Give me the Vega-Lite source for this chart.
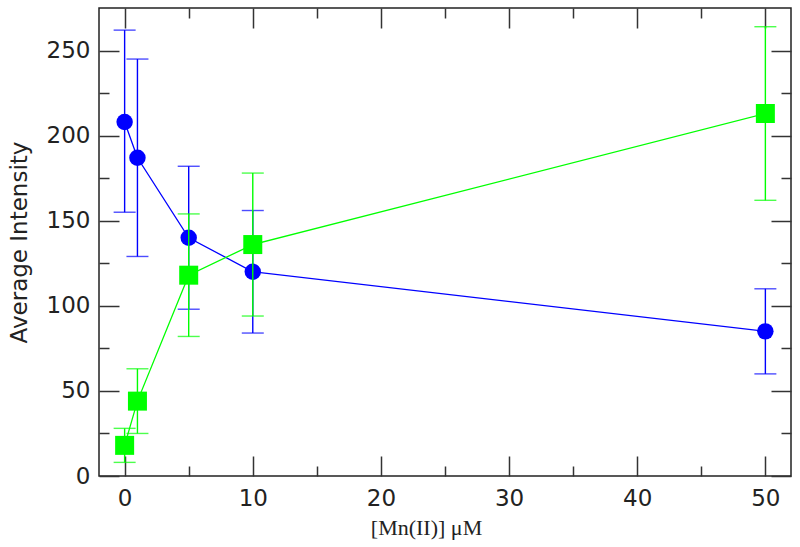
{
  "$schema": "https://vega.github.io/schema/vega-lite/v6.json",
  "width": 692,
  "height": 468,
  "autosize": "none",
  "padding": {"left": 99, "top": 8, "right": 9, "bottom": 71},
  "background": "white",
  "config": {
    "view": {"stroke": "#222222", "strokeWidth": 1.5},
    "axis": {
      "domain": false,
      "grid": false,
      "ticks": true,
      "tickColor": "#333333",
      "tickWidth": 1.5,
      "labelFont": "DejaVu Sans",
      "labelFontSize": 23,
      "labelColor": "#222222",
      "titleColor": "#222222",
      "titleFontWeight": "normal"
    }
  },
  "data": {
    "values": [
      {"series": "A", "x": 0, "y": 208, "lo": 155, "hi": 262},
      {"series": "A", "x": 1, "y": 187, "lo": 129, "hi": 245},
      {"series": "A", "x": 5, "y": 140, "lo": 98, "hi": 182},
      {"series": "A", "x": 10, "y": 120, "lo": 84, "hi": 156},
      {"series": "A", "x": 50, "y": 85, "lo": 60, "hi": 110},
      {"series": "B", "x": 0, "y": 18, "lo": 8, "hi": 28},
      {"series": "B", "x": 1, "y": 44, "lo": 25, "hi": 63},
      {"series": "B", "x": 5, "y": 118, "lo": 82, "hi": 154},
      {"series": "B", "x": 10, "y": 136, "lo": 94, "hi": 178},
      {"series": "B", "x": 50, "y": 213, "lo": 162, "hi": 264}
    ]
  },
  "layer": [
    {
      "transform": [{"filter": "datum.series == 'A'"}],
      "mark": {"type": "rule", "color": "#0000ff", "strokeWidth": 1.4},
      "encoding": {
        "x": {"field": "x", "type": "quantitative", "scale": {"domain": [-2, 52], "nice": false, "zero": false},
          "axis": {"orient": "bottom", "values": [0, 10, 20, 30, 40, 50], "offset": -20, "tickSize": 20, "labelPadding": 11,
            "title": "[Mn(II)] μM", "titleFont": "Liberation Serif", "titleFontSize": 22, "titlePadding": 7,
            "titleX": 327, "titleAlign": "center"}},
        "y": {"field": "lo", "type": "quantitative", "scale": {"domain": [0, 275], "nice": false, "zero": false},
          "axis": {"orient": "left", "values": [0, 50, 100, 150, 200, 250], "offset": -20, "tickSize": 20, "labelPadding": 9,
            "title": "Average Intensity", "titleFont": "DejaVu Sans", "titleFontSize": 23, "titlePadding": 15}},
        "y2": {"field": "hi"}
      }
    },
    {
      "transform": [{"filter": "datum.series == 'A'"}],
      "mark": {"type": "tick", "orient": "horizontal", "color": "#0000ff", "size": 22, "thickness": 1.4},
      "encoding": {
        "x": {"field": "x", "type": "quantitative", "scale": {"domain": [-2, 52], "nice": false, "zero": false},
          "axis": {"orient": "bottom", "values": [5, 15, 25, 35, 45], "offset": -10, "tickSize": 10, "labels": false, "title": null}},
        "y": {"field": "lo", "type": "quantitative", "scale": {"domain": [0, 275], "nice": false, "zero": false},
          "axis": {"orient": "left", "values": [25, 75, 125, 175, 225], "offset": -10, "tickSize": 10, "labels": false, "title": null}}
      }
    },
    {
      "transform": [{"filter": "datum.series == 'A'"}],
      "mark": {"type": "tick", "orient": "horizontal", "color": "#0000ff", "size": 22, "thickness": 1.4},
      "encoding": {
        "x": {"field": "x", "type": "quantitative", "scale": {"domain": [-2, 52], "nice": false, "zero": false},
          "axis": {"orient": "top", "values": [0, 10, 20, 30, 40, 50], "offset": -20, "tickSize": 20, "labels": false, "title": null}},
        "y": {"field": "hi", "type": "quantitative", "scale": {"domain": [0, 275], "nice": false, "zero": false},
          "axis": {"orient": "right", "values": [0, 50, 100, 150, 200, 250], "offset": -20, "tickSize": 20, "labels": false, "title": null}}
      }
    },
    {
      "transform": [{"filter": "datum.series == 'A'"}],
      "mark": {"type": "line", "color": "#0000ff", "strokeWidth": 1.3},
      "encoding": {
        "x": {"field": "x", "type": "quantitative", "scale": {"domain": [-2, 52], "nice": false, "zero": false},
          "axis": {"orient": "top", "values": [5, 15, 25, 35, 45], "offset": -10, "tickSize": 10, "labels": false, "title": null}},
        "y": {"field": "y", "type": "quantitative", "scale": {"domain": [0, 275], "nice": false, "zero": false},
          "axis": {"orient": "right", "values": [25, 75, 125, 175, 225], "offset": -10, "tickSize": 10, "labels": false, "title": null}}
      }
    },
    {
      "transform": [{"filter": "datum.series == 'A'"}],
      "mark": {"type": "point", "shape": "circle", "filled": true, "opacity": 1, "color": "#0000ff", "size": 270},
      "encoding": {
        "x": {"field": "x", "type": "quantitative", "axis": null},
        "y": {"field": "y", "type": "quantitative", "axis": null}
      }
    },
    {
      "transform": [{"filter": "datum.series == 'B'"}],
      "mark": {"type": "rule", "color": "#00ff00", "strokeWidth": 1.4},
      "encoding": {
        "x": {"field": "x", "type": "quantitative", "axis": null},
        "y": {"field": "lo", "type": "quantitative", "axis": null},
        "y2": {"field": "hi"}
      }
    },
    {
      "transform": [{"filter": "datum.series == 'B'"}],
      "mark": {"type": "tick", "orient": "horizontal", "color": "#00ff00", "size": 22, "thickness": 1.4},
      "encoding": {
        "x": {"field": "x", "type": "quantitative", "axis": null},
        "y": {"field": "lo", "type": "quantitative", "axis": null}
      }
    },
    {
      "transform": [{"filter": "datum.series == 'B'"}],
      "mark": {"type": "tick", "orient": "horizontal", "color": "#00ff00", "size": 22, "thickness": 1.4},
      "encoding": {
        "x": {"field": "x", "type": "quantitative", "axis": null},
        "y": {"field": "hi", "type": "quantitative", "axis": null}
      }
    },
    {
      "transform": [{"filter": "datum.series == 'B'"}],
      "mark": {"type": "line", "color": "#00ff00", "strokeWidth": 1.3},
      "encoding": {
        "x": {"field": "x", "type": "quantitative", "axis": null},
        "y": {"field": "y", "type": "quantitative", "axis": null}
      }
    },
    {
      "transform": [{"filter": "datum.series == 'B'"}],
      "mark": {"type": "point", "shape": "square", "filled": true, "opacity": 1, "color": "#00ff00", "size": 361},
      "encoding": {
        "x": {"field": "x", "type": "quantitative", "axis": null},
        "y": {"field": "y", "type": "quantitative", "axis": null}
      }
    }
  ],
  "resolve": {"axis": {"x": "independent", "y": "independent"}}
}
